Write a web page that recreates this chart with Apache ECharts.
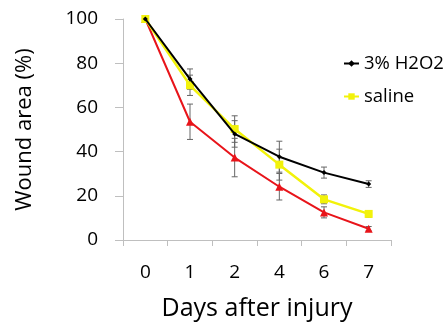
<!DOCTYPE html>
<html><head><meta charset="utf-8">
<script src="https://cdn.jsdelivr.net/npm/echarts@6/dist/echarts.min.js"></script>
<style>html,body{margin:0;padding:0;background:#fff}#c{width:448px;height:324px}</style>
</head><body><div id="c"></div>
<script>
var categories = ['0', '1', '2', '4', '6', '7'];
var h2o2 = [100, 72.8, 48, 37.7, 30.5, 25.3];
var h2o2Err = [0, 4.6, 6, 7, 2.5, 1.5];
var saline = [100, 70, 50.2, 34.1, 18.4, 11.8];
var salineErr = [0, 4.6, 6, 7, 2, 1.5];
var red = [100, 53.5, 37.3, 24.1, 12.5, 5.1];
var redErr = [0, 8, 8.7, 6, 2.5, 1];
var yTicks = [0, 20, 40, 60, 80, 100];

var FONT = 'Open Sans';
function errData(vals, errs) {
  return vals.map(function (v, i) { return [i, v - errs[i], v + errs[i]]; });
}
function errSeries(vals, errs) {
  return {
    type: 'custom', silent: true, z: 1,
    renderItem: function (params, api) {
      var x = api.value(0);
      var lo = api.coord([x, api.value(1)]);
      var hi = api.coord([x, api.value(2)]);
      var w = 3;
      var st = { stroke: '#666', lineWidth: 1 };
      return { type: 'group', children: [
        { type: 'line', shape: { x1: lo[0], y1: lo[1], x2: hi[0], y2: hi[1] }, style: st },
        { type: 'line', shape: { x1: lo[0] - w, y1: lo[1], x2: lo[0] + w, y2: lo[1] }, style: st },
        { type: 'line', shape: { x1: hi[0] - w, y1: hi[1], x2: hi[0] + w, y2: hi[1] }, style: st }
      ]};
    },
    encode: { x: 0, y: [1, 2] },
    data: errData(vals, errs)
  };
}
var chart = echarts.init(document.getElementById('c'));
chart.setOption({
  animation: false,
  grid: { left: 123, right: 57, top: 19, bottom: 84, containLabel: false, outerBoundsMode: 'none' },
  legend: {
    orient: 'vertical', left: 338, top: 49, itemGap: 14,
    itemWidth: 15, itemHeight: 8,
    textStyle: { fontFamily: FONT, fontSize: 18.5, color: '#000' },
    data: ['3% H2O2', 'saline']
  },
  xAxis: {
    type: 'category', data: categories, boundaryGap: true,
    name: 'Days after injury', nameLocation: 'middle', nameGap: 56,
    nameTextStyle: { fontFamily: FONT, fontSize: 25, color: '#000' },
    axisLine: { lineStyle: { color: '#bfbfbf', width: 1 } },
    axisTick: { show: true, length: 6, inside: false, lineStyle: { color: '#bfbfbf' } },
    axisLabel: { fontFamily: FONT, fontSize: 19, color: '#000', margin: 23 }
  },
  yAxis: {
    type: 'value', min: 0, max: 100, interval: 20,
    name: 'Wound area (%)', nameLocation: 'middle', nameGap: 87,
    nameTextStyle: { fontFamily: FONT, fontSize: 22, color: '#000' },
    axisLine: { show: true, lineStyle: { color: '#bfbfbf', width: 1 } },
    axisTick: { show: true, length: 8, lineStyle: { color: '#bfbfbf' } },
    splitLine: { show: false },
    axisLabel: { fontFamily: FONT, fontSize: 19, color: '#000', margin: 25,
      formatter: function (v) { return yTicks.indexOf(v) >= 0 ? String(v) : ''; } }
  },
  series: [
    errSeries(h2o2, h2o2Err), errSeries(saline, salineErr), errSeries(red, redErr),
    { name: 'red', type: 'line', data: red, z: 3, symbol: 'triangle', symbolSize: 8,
      lineStyle: { color: '#e8141a', width: 2 }, itemStyle: { color: '#e8141a' } },
    { name: 'saline', type: 'line', data: saline, z: 4, symbol: 'rect', symbolSize: 8,
      lineStyle: { color: '#f2f20a', width: 2.5 }, itemStyle: { color: '#f2f20a' } },
    { name: '3% H2O2', type: 'line', data: h2o2, z: 5, symbol: 'diamond', symbolSize: 5,
      lineStyle: { color: '#000', width: 2 }, itemStyle: { color: '#000' } }
  ]
});
</script></body></html>
